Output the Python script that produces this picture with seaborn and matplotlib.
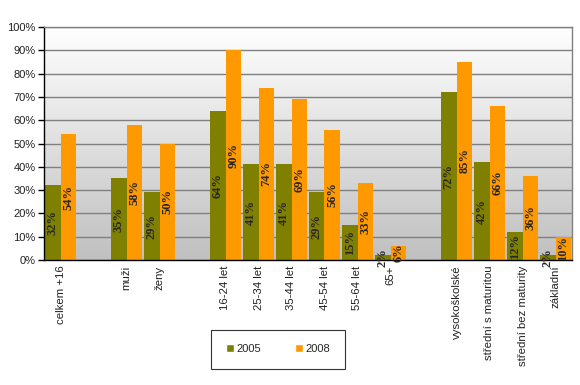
import numpy as np
import pandas as pd
import matplotlib
matplotlib.use("Agg")
import matplotlib.pyplot as plt
import seaborn as sns
from matplotlib.patches import Patch

# categories (blank ones are spacer slots)
categories = ["celkem +16", " ", "muži", "ženy", "  ", "16-24 let", "25-34 let",
              "35-44 let", "45-54 let", "55-64 let", "65+", "   ",
              "vysokoškolské", "střední s maturitou", "střední bez maturity", "základní"]
bar_categories = ["celkem +16", "muži", "ženy", "16-24 let", "25-34 let",
                  "35-44 let", "45-54 let", "55-64 let", "65+",
                  "vysokoškolské", "střední s maturitou", "střední bez maturity", "základní"]
values_2005 = [32, 35, 29, 64, 41, 41, 29, 15, 2, 72, 42, 12, 2]
values_2008 = [54, 58, 50, 90, 74, 69, 56, 33, 6, 85, 66, 36, 10]
years = ["2005", "2008"]
colors = ["#808000", "#FF9900"]

df = pd.DataFrame({
    "cat": bar_categories * 2,
    "val": values_2005 + values_2008,
    "year": [years[0]] * len(bar_categories) + [years[1]] * len(bar_categories),
})

sns.set_style("white")
plt.rcParams["font.family"] = ["Liberation Sans", "DejaVu Sans"]

fig = plt.figure(figsize=(5.8, 3.85), dpi=100)
ax = fig.add_axes([44 / 580, 1 - 260 / 385, 528 / 580, 233 / 385])

# gradient background
grad = np.linspace(0, 1, 256).reshape(-1, 1)
ax.imshow(grad, cmap=matplotlib.colors.LinearSegmentedColormap.from_list(
    "bg", ["#c0c0c0", "#ffffff"]), origin="lower", aspect="auto",
    extent=[-0.5, len(categories) - 0.5, 0, 100], zorder=0)

sns.barplot(data=df, x="cat", y="val", hue="year", order=categories,
            hue_order=years, palette=colors, width=0.94, saturation=1,
            legend=False, ax=ax, zorder=2, linewidth=0, edgecolor="none")

ax.set_xlim(-0.5, len(categories) - 0.5)
ax.set_ylim(0, 100)
ax.set_yticks(range(0, 101, 10))
ax.set_yticklabels([f"{v}%" for v in range(0, 101, 10)], fontsize=8, color="#222222")
ax.yaxis.grid(True, color="#808080", linewidth=1, zorder=1)
ax.set_axisbelow(True)
ax.set_xlabel("")
ax.set_ylabel("")

ax.set_xticks(range(len(categories)))
ax.set_xticklabels(categories, rotation=90, fontsize=8.2, va="top", color="#222222")
ax.set_xticks(np.arange(-0.5, len(categories), 1), minor=True)
ax.tick_params(axis="x", which="major", length=0, pad=4)
ax.tick_params(axis="x", which="minor", length=4, width=1, color="black", direction="out")
ax.tick_params(axis="y", length=4, width=1, color="black", direction="out", pad=2, left=True)

for side in ["left", "bottom"]:
    ax.spines[side].set_color("black")
    ax.spines[side].set_linewidth(1)
for side in ["top", "right"]:
    ax.spines[side].set_color("#808080")
    ax.spines[side].set_linewidth(1)

# data labels centred in bars
for container in ax.containers:
    for bar in container:
        h = bar.get_height()
        if np.isnan(h) or h == 0:
            continue
        ax.text(bar.get_x() + bar.get_width() / 2, h / 2, f"{h:.0f}%",
                rotation=90, ha="center", va="center", fontsize=9,
                fontweight="bold", family="Liberation Serif", zorder=3)

handles = [Patch(facecolor=c, label=y) for c, y in zip(colors, years)]
leg = fig.legend(handles=handles, loc="center", bbox_to_anchor=(278 / 580, 1 - 349 / 385),
                 ncol=2, fontsize=8, frameon=True, fancybox=False, edgecolor="black",
                 handlelength=0.8, handleheight=0.8, handletextpad=0.2,
                 columnspacing=3.0, borderpad=1.3, borderaxespad=0)
leg.get_frame().set_linewidth(0.8)

fig.savefig("out.png", dpi=100)
